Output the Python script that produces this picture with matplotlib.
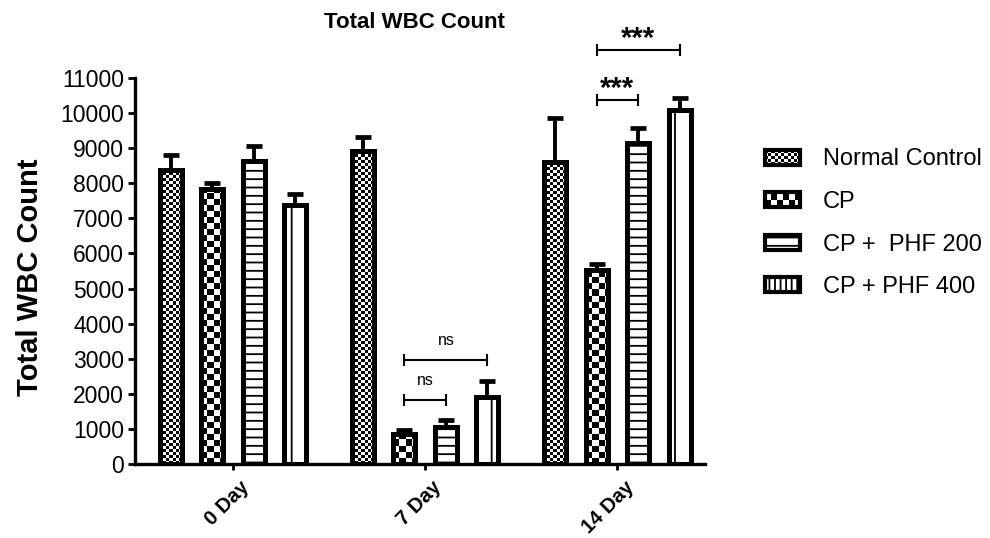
import numpy as np
import matplotlib

matplotlib.use("Agg")
import matplotlib.pyplot as plt
from matplotlib.colors import ListedColormap
from matplotlib.patches import Rectangle
from matplotlib.legend_handler import HandlerBase
from matplotlib.transforms import ScaledTranslation

plt.rcParams["font.family"] = ["Liberation Sans", "DejaVu Sans"]
plt.rcParams["hatch.linewidth"] = 1.3

days = ["0 Day", "7 Day", "14 Day"]
groups = ["Normal Control", "CP", "CP +  PHF 200", "CP + PHF 400"]

normal = [8380, 8930, 8600]
normal_err = [430, 390, 1250]
cp = [7840, 860, 5540]
cp_err = [170, 100, 160]
phf200 = [8640, 1060, 9150]
phf200_err = [420, 200, 430]
phf400 = [7380, 1920, 10090]
phf400_err = [320, 440, 330]

# (day index, group a, group b, bracket height, label)
sig = [
    (1, 1, 2, 1820, "ns"),
    (1, 1, 3, 2960, "ns"),
    (2, 1, 2, 10370, "***"),
    (2, 1, 3, 11800, "***"),
]

values = [normal, cp, phf200, phf400]
errors = [normal_err, cp_err, phf200_err, phf400_err]
# pattern per group: checker cell in px (bars) / pt (legend), or hatch
patterns = [("checker", 3.0), ("checker", 6.0), ("hatch", "--"), ("hatch", "|")]
legend_patterns = [("checker", 2.3), ("checker", 4.4), ("hatch", "--"), ("hatch", "|||")]

GROUP_STEP = 4.63
BAR_W = 0.53
XLIM = (-2.36, 11.37)
YMAX = 11000

fig = plt.figure(figsize=(9.9, 5.38), dpi=100)
ax = fig.add_axes([135 / 990, 0.1376, 570 / 990, 0.7175])
ax.set_xlim(*XLIM)
ax.set_ylim(0, YMAX)

centers = np.arange(len(days)) * GROUP_STEP
sx = ax.get_position().width * fig.get_figwidth() * fig.dpi / (XLIM[1] - XLIM[0])
sy = ax.get_position().height * fig.get_figheight() * fig.dpi / YMAX

checker_cmap = ListedColormap(["white", "black"])
bar_x = {}
for g, (vals, errs, (kind, arg)) in enumerate(zip(values, errors, patterns)):
    xs = centers + (g - 1.5)
    bar_x[g] = xs
    ax.errorbar(xs, vals, yerr=[np.zeros(len(vals)), errs], fmt="none",
                ecolor="black", elinewidth=2.8, capsize=6, capthick=3.4, zorder=1)
    if kind == "hatch":
        face = ax.bar(xs, vals, BAR_W, color="white", edgecolor="black",
                      linewidth=0, hatch=arg, zorder=2)
    else:
        face = ax.bar(xs, vals, BAR_W, color="white", linewidth=0, zorder=2)
        for rect, v in zip(face.patches, vals):
            cdx, cdy = arg / sx, arg / sy
            nc = int(np.ceil(BAR_W * sx / arg)) + 1
            nr = int(np.ceil(v * sy / arg)) + 1
            board = np.add.outer(np.arange(nr), np.arange(nc)) % 2
            x0 = rect.get_x()
            im = ax.imshow(board, cmap=checker_cmap, vmin=0, vmax=1,
                           extent=[x0, x0 + nc * cdx, 0, nr * cdy], origin="lower",
                           interpolation="nearest", aspect="auto", zorder=2.5)
            im.set_clip_path(rect)
    ax.bar(xs, vals, BAR_W, fill=False, edgecolor="black", linewidth=3.6, zorder=3)

ax.set_xlim(*XLIM)
ax.set_ylim(0, YMAX)

# significance brackets
for d, a, b, y, lab in sig:
    xa, xb = bar_x[a][d], bar_x[b][d]
    ax.plot([xa, xb], [y, y], color="black", lw=1.5, marker="|", markersize=9,
            markeredgewidth=1.5, clip_on=False, zorder=4)
    if lab == "ns":
        ax.annotate(lab, ((xa + xb) / 2, y), xytext=(0, 9), textcoords="offset points",
                    ha="center", va="bottom", fontsize=11.5, annotation_clip=False)
    else:
        ax.annotate(lab, ((xa + xb) / 2, y), xytext=(0, -2), textcoords="offset points",
                    ha="center", va="bottom", fontsize=21, fontweight="bold",
                    annotation_clip=False)

# axes styling
for s in ("top", "right"):
    ax.spines[s].set_visible(False)
for s in ("left", "bottom"):
    ax.spines[s].set_linewidth(2.4)
ax.set_yticks(np.arange(0, YMAX + 1, 1000))
ax.tick_params(axis="y", labelsize=16.5, width=2, length=5, pad=3)
ax.set_xticks(centers)
ax.set_xticklabels(days, rotation=45, ha="right", rotation_mode="anchor",
                   fontsize=14.5, fontweight="bold")
ax.tick_params(axis="x", width=2, length=4, pad=6)
for lbl in ax.get_xticklabels():
    lbl.set_transform(lbl.get_transform() + ScaledTranslation(5 / 72, 0, fig.dpi_scale_trans))

fig.text(0.419, 1 - 22 / 538, "Total WBC Count", ha="center", va="center",
         fontsize=16, fontweight="bold")
fig.text(0.030, 0.485, "Total WBC Count", ha="center", va="center", rotation=90,
         fontsize=21, fontweight="bold")


class PatternHandler(HandlerBase):
    def create_artists(self, legend, orig_handle, xdescent, ydescent, width, height,
                       fontsize, trans):
        x0, y0 = -xdescent, -ydescent
        kind, arg = orig_handle.pattern
        arts = [Rectangle((x0, y0), width, height, facecolor="white", edgecolor="none",
                          transform=trans)]
        if kind == "checker":
            nc = max(1, int(round(width / arg)))
            nr = max(1, int(round(height / arg)))
            cw, ch = width / nc, height / nr
            for i in range(nr):
                for j in range(nc):
                    if (i + j) % 2 == 0:
                        arts.append(Rectangle((x0 + j * cw, y0 + i * ch), cw, ch,
                                              facecolor="black", edgecolor="none",
                                              transform=trans))
        else:
            arts.append(Rectangle((x0, y0), width, height, facecolor="white",
                                  edgecolor="black", lw=0, hatch=arg, transform=trans))
        arts.append(Rectangle((x0, y0), width, height, fill=False, edgecolor="black",
                              lw=3, transform=trans))
        return arts


proxies = []
for pat in legend_patterns:
    p = Rectangle((0, 0), 1, 1)
    p.pattern = pat
    proxies.append(p)

fig.legend(proxies, groups, loc="center left", bbox_to_anchor=(765 / 990, 0.585),
           bbox_transform=fig.transFigure, frameon=False, fontsize=17,
           handlelength=1.5, handleheight=0.6, handletextpad=0.95, labelspacing=0.87,
           borderpad=0, borderaxespad=0,
           handler_map={Rectangle: PatternHandler()})

fig.savefig("out.png", dpi=100)
